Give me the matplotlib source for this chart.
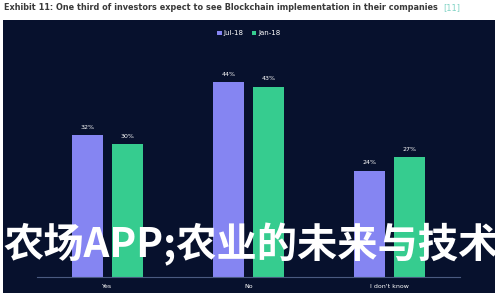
"""
Exhibit 11 bar chart: investor expectations on Blockchain implementation.
"""
import matplotlib
matplotlib.use("Agg")
import matplotlib.pyplot as plt

categories = ["Yes", "No", "I don't know"]
series_names = ["Jul-18", "Jan-18"]
jul18 = [32, 44, 24]
jan18 = [30, 43, 27]

BG = "#07112d"
PURPLE = "#8585f2"
GREEN = "#36cc8f"


def main():
    fig = plt.figure(figsize=(5, 3), dpi=100)
    fig.patch.set_facecolor("white")

    # dark panel holding the chart
    ax = fig.add_axes([0.006, 0.023, 0.984, 0.91])
    ax.set_facecolor(BG)
    for s in ax.spines.values():
        s.set_visible(False)
    ax.set_xticks([])
    ax.set_yticks([])
    ax.set_xlim(-0.741, 2.748)
    ax.set_ylim(-3.6, 58)

    x = list(range(len(categories)))
    off, w = 0.142, 0.22
    b1 = ax.bar([i - off for i in x], jul18, width=w, color=PURPLE, label=series_names[0])
    b2 = ax.bar([i + off for i in x], jan18, width=w, color=GREEN, label=series_names[1])

    for bars, vals in ((b1, jul18), (b2, jan18)):
        for b, v in zip(bars, vals):
            ax.text(b.get_x() + b.get_width() / 2, v + 1.2, f"{v}%",
                    ha="center", va="bottom", color="white", fontsize=4.5)

    ax.plot([-0.5, 2.5], [0, 0], color="#4a5a80", lw=0.8)
    for i, c in enumerate(categories):
        ax.text(i, -2.0, c, ha="center", va="center", color="white", fontsize=4.5)

    leg = ax.legend(loc="upper center", bbox_to_anchor=(0.5, 0.985), ncol=2,
                    frameon=False, fontsize=5, handlelength=0.6, handleheight=0.6,
                    handletextpad=0.3, columnspacing=1.2)
    for t in leg.get_texts():
        t.set_color("white")

    # title above the panel, reference tag placed right after it
    title = fig.text(0.008, 0.975, "Exhibit 11: One third of investors expect to see "
                     "Blockchain implementation in their companies", ha="left",
                     va="center", fontsize=5.9, fontweight="bold", color="#3a3a3a")
    fig.canvas.draw()
    bb = title.get_window_extent()
    fig.text((bb.x1 + 5) / fig.bbox.width, 0.975, "[11]", ha="left", va="center",
             fontsize=5.9, color="#7fd3c4")

    # big overlay text
    fig.text(0.503, 0.185, "农场APP;农业的未来与技术", ha="center", va="center",
             fontsize=29, fontweight="bold", color="white",
             family=["Noto Sans CJK SC", "DejaVu Sans"])

    fig.savefig("out.png", dpi=100)
    plt.close()


if __name__ == "__main__":
    main()
